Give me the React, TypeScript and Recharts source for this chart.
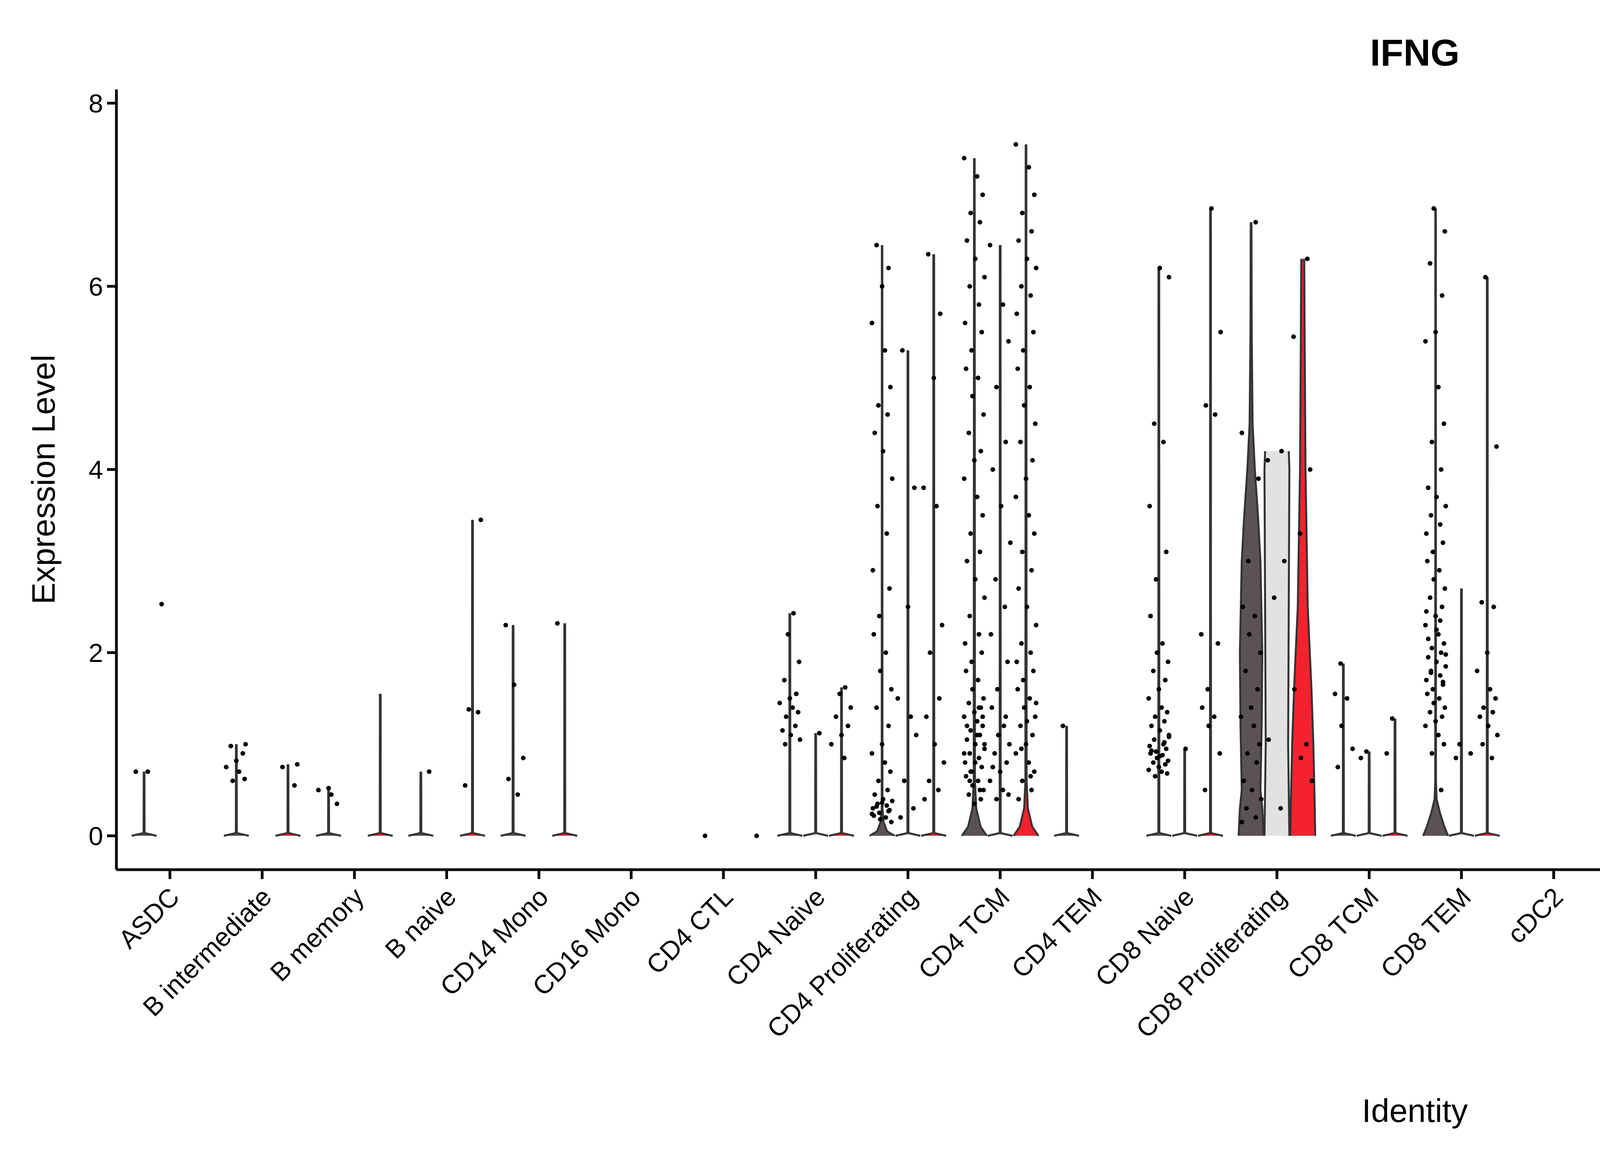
import React from 'react';
import { ComposedChart, Area, Scatter, XAxis, YAxis } from 'recharts';

const CATEGORIES = ['ASDC','B intermediate','B memory','B naive','CD14 Mono','CD16 Mono','CD4 CTL','CD4 Naive','CD4 Proliferating','CD4 TCM','CD4 TEM','CD8 Naive','CD8 Proliferating','CD8 TCM','CD8 TEM','cDC2','dnT','gdT','HSPC','ILC','MAIT','NK','NK Proliferating','NK_CD56bright','pDC','Plasmablast','Platelet','Treg'];
const GROUPS = ['JLK','P1042','P1043'];
const COLORS = ['#5a5256','#e3e2e3','#f4222f'];
const Y_TICKS = [0,2,4,6,8];

// violin maxima per group (null = no violin drawn)
const MAX_JLK = [0.7,1.0,0.52,0.7,2.3,0,null,2.43,6.45,7.4,1.2,6.2,6.7,1.88,6.85,0,1.65,2.9,0.5,7.65,7.05,7.7,7.5,7.5,0,4.4,0,2.7];
const MAX_P1042 = [null,0,0,0,0,0,null,1.12,5.3,6.45,0,0.95,4.2,0.92,2.7,0,0,0,0,5.1,4.95,6.5,3.4,5.6,0,0.5,0,0];
const MAX_P1043 = [0,0.78,1.55,3.45,2.32,0,null,1.62,6.35,7.55,0,6.85,6.3,1.28,6.1,0,0,0,0,4.85,7.35,6.35,7.45,5.5,0,2.5,0,0];

// density profiles [y, relative half width] for the shaped violins
const SHAPES: Record<string, number[][]> = {
  '8-0': [[0,1],[0.05,0.4],[0.15,0.12],[0.3,0.03],[6.45,0.02]],
  '9-0': [[0,1],[0.1,0.5],[0.3,0.15],[0.6,0.05],[7.4,0.025]],
  '9-2': [[0,1],[0.1,0.5],[0.3,0.15],[0.6,0.05],[7.55,0.025]],
  '12-0': [[0,1],[0.3,0.9],[0.5,0.75],[1.2,0.85],[2,0.9],[3,0.75],[3.5,0.55],[4,0.3],[4.5,0.12],[5.5,0.05],[6.7,0.03]],
  '12-1': [[0,1],[0.5,0.95],[1,0.9],[2.5,0.95],[4,1],[4.2,0.95]],
  '12-2': [[0,1],[0.4,0.95],[1,0.85],[1.6,0.7],[2.5,0.4],[4,0.22],[5.5,0.15],[6.3,0.12]],
  '14-0': [[0,1],[0.1,0.7],[0.25,0.35],[0.4,0.08],[0.6,0.03],[6.85,0.02]],
  '19-0': [[0,1],[0.3,0.95],[0.6,0.8],[1.5,0.65],[2.5,0.5],[3.5,0.45],[4.5,0.5],[6,0.7],[7,0.75],[7.65,0.75]],
  '19-1': [[0,1],[0.3,0.95],[0.7,0.6],[1.2,0.3],[2,0.15],[3,0.25],[3.7,0.35],[4.3,0.25],[4.8,0.08],[5.1,0.05]],
  '20-0': [[0,1],[0.2,0.75],[0.5,0.45],[0.8,0.2],[1.2,0.08],[2,0.03],[7.05,0.02]],
  '21-0': [[0,1],[0.3,0.8],[0.6,0.5],[1,0.2],[1.5,0.07],[2.5,0.04],[7.7,0.02]],
  '22-0': [[0,0.55],[0.5,0.3],[1,0.2],[2,0.22],[3,0.28],[4,0.35],[5,0.45],[5.8,0.7],[6.5,0.9],[7,0.85],[7.5,0.8]],
  '22-1': [[0,1],[0.2,0.8],[0.4,0.45],[0.7,0.2],[1.2,0.1],[2,0.06],[3.4,0.05]],
  '22-2': [[0,1],[0.3,1],[0.7,0.9],[1.5,0.7],[2.5,0.45],[4,0.3],[6,0.18],[7,0.12],[7.45,0.1]],
  '25-0': [[0,1],[0.1,0.8],[0.3,0.4],[0.5,0.15],[1,0.05],[2,0.03],[4.4,0.02]],
};

// expression values of the visible cells, per "category-group"
const POINTS: Record<string, number[]> = {
  '0-0': [0.7,0.7], '0-1': [2.53],
  '1-0': [1.0,0.98,0.9,0.82,0.75,0.7,0.62,0.6], '1-2': [0.78,0.75,0.55],
  '2-0': [0.52,0.5,0.45,0.35],
  '3-0': [0.7], '3-2': [3.45,1.38,1.35,0.55],
  '4-0': [2.3,1.65,0.85,0.62,0.45], '4-2': [2.32],
  '6-0': [0], '6-2': [0],
  '7-0': [2.43,2.2,1.9,1.7,1.55,1.5,1.45,1.4,1.35,1.3,1.2,1.15,1.1,1.05,1.0], '7-1': [1.12], '7-2': [1.62,1.55,1.4,1.3,1.2,1.1,1.0,0.85],
  '8-0': [6.45,6.2,6.0,5.6,5.3,4.9,4.7,4.6,4.4,4.2,3.9,3.6,3.3,2.9,2.7,2.4,2.2,2.0,1.8,1.6,1.4,1.2,1.0,0.9,0.8,0.7,0.6,0.5,0.45,0.4,0.38,0.35,0.33,0.3,0.28,0.25,0.22,0.2,0.18,0.15,0.32,0.27,0.36,0.24],
  '8-1': [5.3,3.8,2.5,1.5,1.3,1.1,0.6,0.3,0.2],
  '8-2': [6.35,5.7,5.0,3.8,3.6,2.3,2.0,1.5,1.3,1.0,0.8,0.6,0.5,0.4],
  '9-0': [7.4,7.2,7.0,6.8,6.7,6.5,6.3,6.1,6.0,5.8,5.6,5.5,5.3,5.1,5.0,4.8,4.6,4.4,4.2,4.1,3.9,3.7,3.5,3.3,3.1,3.0,2.8,2.6,2.4,2.2,2.1,2.0,1.9,1.8,1.7,1.6,1.5,1.45,1.4,1.35,1.3,1.25,1.2,1.15,1.1,1.05,1.0,0.95,0.9,0.85,0.8,0.75,0.7,0.65,0.6,0.55,0.5,0.45,0.4,0.35,0.9,1.1,1.3,0.7,0.5,1.2,0.8,1.0,0.6,1.4],
  '9-1': [6.45,5.8,5.4,4.9,4.3,4.0,3.6,3.2,2.8,2.5,2.2,1.9,1.6,1.4,1.2,1.1,1.0,0.9,0.8,0.7,0.6,0.5,0.45,0.4,1.3,0.75],
  '9-2': [7.55,7.3,7.0,6.8,6.6,6.5,6.3,6.2,6.0,5.9,5.7,5.5,5.3,5.1,4.9,4.7,4.5,4.3,4.1,3.9,3.7,3.5,3.3,3.1,2.9,2.7,2.5,2.3,2.1,2.0,1.9,1.8,1.7,1.6,1.5,1.4,1.3,1.2,1.1,1.0,0.9,0.8,0.7,0.6,0.5,0.4,1.25,1.45,0.95,0.65],
  '10-0': [1.2],
  '11-0': [6.2,6.1,4.5,4.3,3.6,3.1,2.8,2.4,2.1,2.0,1.9,1.8,1.7,1.6,1.5,1.4,1.35,1.3,1.25,1.2,1.15,1.1,1.05,1.0,0.98,0.95,0.92,0.9,0.88,0.85,0.82,0.8,0.78,0.75,0.72,0.7,0.68,0.65,1.02,0.93,0.87,1.08],
  '11-1': [0.95],
  '11-2': [6.85,5.5,4.7,4.6,2.2,2.1,1.6,1.4,1.3,1.2,0.9,0.5],
  '12-0': [6.7,4.4,3.9,3.0,2.5,2.4,2.2,2.0,1.8,1.6,1.4,1.3,1.2,1.0,0.9,0.8,0.6,0.5,0.4,0.3,0.2,0.15],
  '12-1': [4.2,4.1,3.0,2.6,1.05,0.3],
  '12-2': [6.3,5.45,4.0,3.3,1.6,1.0,0.85,0.6],
  '13-0': [1.88,1.55,1.5,1.2,0.95,0.75], '13-1': [0.92,0.85], '13-2': [1.28,0.9],
  '14-0': [6.85,6.6,6.25,5.9,5.5,5.4,4.9,4.5,4.3,4.0,3.8,3.7,3.6,3.5,3.4,3.3,3.2,3.1,3.0,2.9,2.8,2.7,2.6,2.5,2.4,2.3,2.2,2.1,2.05,2.0,1.95,1.9,1.85,1.8,1.75,1.7,1.65,1.6,1.55,1.5,1.45,1.4,1.35,1.3,1.25,1.2,1.1,1.0,0.9,0.5,2.15,2.25,1.98,1.78,2.35,2.45,1.68],
  '14-1': [1.0,0.9,0.85], '14-2': [6.1,4.25,2.55,2.5,2.0,1.8,1.6,1.5,1.4,1.35,1.3,1.2,1.1,1.0,0.85],
  '16-0': [1.65,1.6,1.05,0.95,0.85],
  '18-0': [0.5,0.5],
  '17-0': [2.9,2.7,2.65,2.1,2.0,1.8,1.6,1.5,1.35],
  '19-0': [7.55,7.1,6.6,6.5,6.2,5.6,5.4,4.6,4.5,3.6,1.1],
  '19-1': [5.1,4.1,3.9,3.7,3.6,3.4,3.3,3.2,3.0,2.8,2.6,1.9,1.2],
  '19-2': [4.85,1.6,1.5,1.0],
  '20-0': [7.05,6.9,6.7,6.6,6.3,5.8,5.6,5.0,3.9,3.3,3.1,2.9,2.5,2.3,1.9,1.8,1.6,1.3,1.2,1.1,0.9,0.8,0.5],
  '20-1': [4.95,2.7,1.8,1.5,1.0,0.9],
  '20-2': [7.35,6.9,5.2,4.3,4.0,3.7,3.5,2.5,2.4,1.9,1.8,1.5,1.3,1.2,1.0],
  '21-0': [7.7,7.55,7.4,7.3,7.1,6.9,6.8,6.6,6.4,6.2,6.0,5.8,5.6,5.4,5.2,5.0,4.8,4.6,4.4,4.2,4.0,3.8,3.6,3.4,3.2,3.0,2.8,2.6,2.4,2.2,2.0,1.9,1.8,1.7,1.6,1.5,1.4,1.3,1.2,1.1,1.0,0.9,0.8,0.7,0.6,0.5,0.4,0.3,2.1,1.65,1.35,1.15],
  '21-1': [6.5,6.4,4.6,3.2,2.7,2.3,2.0,1.8,1.6,1.5,1.4,1.3,1.2,1.1,1.0,0.9,0.6],
  '21-2': [6.35,5.7,4.3,3.6,3.2,2.6,2.4,2.2,2.0,1.8,1.6,1.5,1.4,1.3,1.2,1.1,1.0,0.9,0.8,0.6],
  '22-0': [7.45,7.3,7.2,7.1,7.0,6.95,6.9,6.85,6.8,6.75,6.7,6.65,6.6,6.55,6.5,6.45,6.4,6.35,6.3,6.2,6.1,6.0,5.9,5.8,5.7,5.6,5.5,5.3,5.2,5.0,4.8,4.6,4.3,4.0,3.7,3.5,3.2,3.0,2.8,2.5,2.3,2.0,1.8,1.5,1.2,0.8,0.5,0.3,7.0,6.9,6.75,6.6,6.5,6.4,6.25,6.15],
  '22-1': [3.4,1.7,1.2,0.8,0.4],
  '22-2': [7.45,6.8,6.6,6.2,5.8,5.3,4.8,4.5,4.0,3.8,3.5,3.0,2.8,2.4,2.0,1.8,1.6,1.4,1.2,1.0,0.8,0.6,0.4,0.3],
  '23-0': [7.5,7.2,7.05,6.5,6.0,5.5,5.3,3.2,1.7,1.6],
  '23-1': [5.6,2.4,1.6,1.5,1.2], '23-2': [5.5,2.1,1.9,1.6,1.4,1.2],
  '25-0': [4.4,2.3,2.0,1.6,0.6,0.5,0.4], '25-1': [0.5,0.48], '25-2': [2.5,2.4,2.35,0.45,0.3],
  '27-0': [2.7,2.65,1.8,1.65,1.4,1.3,1.25,1.2,0.85,0.75,0.7],
};

const JITTER = [-0.09,0.04,-0.02,0.1,-0.06,0.07,0.0,-0.11,0.03,0.09,-0.04,0.06,-0.08,0.01,0.11,-0.05,0.05,-0.1,0.08,-0.03];
const OFFSETS = [-0.28, 0, 0.28];
const HALF_WIDTH = 0.135;
const MAXES = [MAX_JLK, MAX_P1042, MAX_P1043];

const violins: { key: string; color: string; data: { y: number; v: number[] }[] }[] = [];
CATEGORIES.forEach((_, ci) => {
  GROUPS.forEach((_, gi) => {
    const m = MAXES[gi][ci];
    if (m === null || m === undefined) return;
    const x0 = ci + 1 + OFFSETS[gi];
    let prof = SHAPES[`${ci}-${gi}`];
    if (!prof) prof = m === 0 ? [[0, 1], [0.0001, 1]] : [[0, 1], [0.03, 0.04], [m, 0.03]];
    violins.push({
      key: `${ci}-${gi}`,
      color: COLORS[gi],
      data: prof.map(([y, w]) => ({ y, v: [x0 - w * HALF_WIDTH, x0 + w * HALF_WIDTH] })),
    });
  });
});

const points: { x: number; y: number }[] = [];
Object.keys(POINTS).forEach((k) => {
  const [ci, gi] = k.split('-').map(Number);
  POINTS[k].forEach((y, i) => {
    points.push({ x: ci + 1 + OFFSETS[gi] + JITTER[(i + ci * 3) % JITTER.length], y });
  });
});

const FONT = '"Liberation Sans", Arial, sans-serif';

const XTick = (props: any) => {
  const { x, y, payload } = props;
  return (
    <g transform={`translate(${x},${y + 20})`}>
      <text transform="rotate(-45)" textAnchor="end" dy={40} fontSize={67} fontFamily={FONT} fill="#000">
        {CATEGORIES[payload.value - 1]}
      </text>
    </g>
  );
};

export default function App() {
  return (
    <div style={{ position: 'absolute', left: 0, top: 0, width: 7500, height: 2973, background: '#fff', fontFamily: FONT }}>
      <div style={{ position: 'absolute', left: 298, width: 6648, top: 80, textAlign: 'center', fontSize: 96, fontWeight: 'bold' }}>IFNG</div>
      <ComposedChart width={7500} height={2973} layout="vertical" margin={{ top: 229, right: 554, bottom: 0, left: 0 }}>
        <XAxis type="number" dataKey="x" domain={[0.42, 28.57]} ticks={CATEGORIES.map((_, i) => i + 1)} interval={0}
          allowDataOverflow tick={<XTick />} tickSize={24} stroke="#000" strokeWidth={7} height={746}
          label={{ value: 'Identity', position: 'insideBottom', offset: 100, fontSize: 84, fill: '#000', fontFamily: FONT }} />
        <YAxis type="number" dataKey="y" domain={[-0.37, 8.15]} ticks={Y_TICKS} allowDataOverflow width={298} reversed
          tickSize={24} stroke="#000" strokeWidth={7} tick={{ fontSize: 67, fill: '#000', fontFamily: FONT }} tickMargin={10}
          label={{ value: 'Expression Level', angle: -90, position: 'insideLeft', offset: 110, fontSize: 84, fill: '#000', fontFamily: FONT, style: { textAnchor: 'middle' } }} />
        {violins.map((v) => (
          <Area key={v.key} data={v.data} dataKey="v" type="linear" fill={v.color} fillOpacity={1} stroke="#333"
            strokeWidth={5} isAnimationActive={false} dot={false} activeDot={false} />
        ))}
        <Scatter data={points} fill="#000" isAnimationActive={false}
          shape={(p: any) => <circle cx={p.cx} cy={p.cy} r={6} fill="#000" />} />
      </ComposedChart>
      <div style={{ position: 'absolute', left: 7046, top: 1075 }}>
        {GROUPS.map((g, i) => (
          <div key={g} style={{ display: 'flex', alignItems: 'center', height: 113 }}>
            <div style={{ width: 100, height: 100, background: COLORS[i], border: '4px solid #333', boxSizing: 'border-box' }} />
            <span style={{ marginLeft: 36, fontSize: 67 }}>{g}</span>
          </div>
        ))}
      </div>
    </div>
  );
}
